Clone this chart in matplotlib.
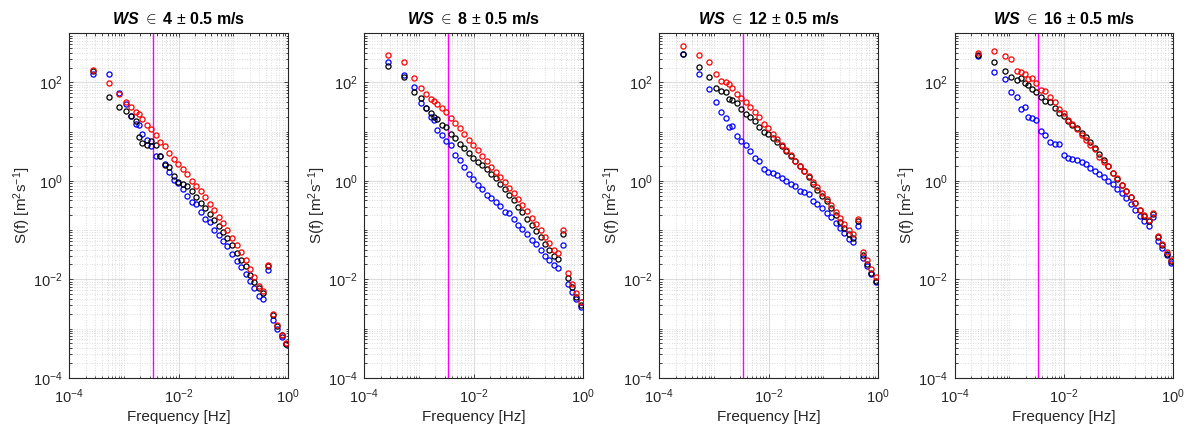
import numpy as np
import matplotlib
matplotlib.use('Agg')
import matplotlib.pyplot as plt
from matplotlib.ticker import LogLocator, FixedLocator, NullFormatter

plt.rcParams['font.family'] = ['Liberation Sans', 'DejaVu Sans']
plt.rcParams['mathtext.fontset'] = 'custom'
plt.rcParams['mathtext.rm'] = 'Liberation Sans'
plt.rcParams['mathtext.it'] = 'Liberation Sans:italic:bold'
plt.rcParams['mathtext.bf'] = 'Liberation Sans:bold'

# frequency bins [Hz]
freq = [2.68e-4, 5.33e-4, 8.24e-4, 1.09e-3, 1.37e-3, 1.64e-3, 1.91e-3, 2.17e-3,
        2.61e-3, 3.09e-3, 3.82e-3, 4.58e-3, 5.58e-3, 6.79e-3, 8.28e-3, 9.93e-3,
        1.19e-2, 1.43e-2, 1.74e-2, 2.12e-2, 2.55e-2, 3.05e-2, 3.72e-2, 4.47e-2,
        5.44e-2, 6.53e-2, 7.85e-2, 9.55e-2, 0.115, 0.138, 0.168, 0.201,
        0.245, 0.294, 0.358, 0.430, 0.524, 0.628, 0.765, 0.931]

titles = ['4', '8', '12', '16']
f_cut = 1 / 300.

# WS 4 m/s
red_4 = [177, 96, 57.5, 40.2, 31.3, 24.8, 22.6, 18.2, 13.7, 11.4, 8.45, 6.28, 5.05, 3.64,
         2.79, 2.24, 1.75, 1.36, 1.01, 0.789, 0.615, 0.464, 0.345, 0.252, 0.188, 0.140,
         0.101, 0.0692, 0.0507, 0.0354, 0.0243, 0.0162, 0.0110, 0.00743, 0.00570, 0.0193,
         0.00195, 0.00116, 0.00075, 0.00050]
black_4 = [174, 51.6, 31.8, 26.4, 20.9, 16.8, 7.69, 5.90, 5.30, 6.49, 5.30, 3.21, 2.14, 1.95,
           1.28, 0.966, 0.879, 0.801, 0.634, 0.471, 0.361, 0.286, 0.216, 0.163, 0.123, 0.0902,
           0.0681, 0.0491, 0.0343, 0.0251, 0.0184, 0.0124, 0.00897, 0.00667, 0.00536, 0.0190,
           0.00191, 0.00114, 0.00073, 0.00048]
blue_4 = [151, 149, 62.2, 36.6, 20.9, 14.4, 13.7, 8.85, 6.79, 5.13, 3.16, 3.21, 2.21, 1.54,
          1.03, 0.922, 0.675, 0.502, 0.373, 0.334, 0.237, 0.168, 0.149, 0.102, 0.0783, 0.0611,
          0.0476, 0.0333, 0.0240, 0.0178, 0.0127, 0.00940, 0.00667, 0.00466, 0.00392, 0.0157,
          0.00149, 0.00098, 0.00067, 0.00048]

# WS 8 m/s
red_8 = [357, 266, 122, 76.2, 58.5, 47.0, 41.5, 36.6, 29.9, 24.8, 19.0, 15.1, 11.9, 8.85,
         6.90, 5.38, 4.19, 3.26, 2.50, 1.95, 1.54, 1.20, 0.937, 0.730, 0.560, 0.430, 0.324,
         0.241, 0.179, 0.131, 0.0991, 0.0725, 0.0540, 0.0394, 0.0338, 0.101, 0.0132,
         0.00804, 0.00519, 0.00352]
black_8 = [220, 132, 63.2, 48.5, 30.8, 23.7, 20.2, 18.4, 13.9, 12.3, 8.85, 7.34, 5.55, 4.60,
           3.64, 2.97, 2.47, 2.07, 1.72, 1.38, 1.13, 0.879, 0.697, 0.526, 0.404, 0.300, 0.230,
           0.168, 0.127, 0.0946, 0.0715, 0.0522, 0.0394, 0.0298, 0.0259, 0.0822, 0.0105,
           0.00687, 0.00445, 0.00301]
blue_8 = [258, 142, 79.8, 38.4, 30.8, 19.6, 17.3, 10.8, 8.59, 6.49, 5.46, 3.37, 2.66, 1.92,
          1.36, 1.08, 0.826, 0.675, 0.518, 0.443, 0.379, 0.314, 0.237, 0.219, 0.168, 0.127,
          0.105, 0.0822, 0.0630, 0.0514, 0.0394, 0.0303, 0.0247, 0.0195, 0.0167, 0.0499,
          0.00804, 0.00553, 0.00392, 0.00270]

# WS 12 m/s
red_12 = [553, 363, 258, 147, 109, 103, 91.9, 76.2, 59.4, 48.5, 39.6, 31.8, 25.6, 19.6,
          14.4, 11.7, 9.14, 7.01, 5.46, 4.32, 3.31, 2.58, 2.04, 1.59, 1.24, 0.951, 0.741,
          0.560, 0.430, 0.324, 0.237, 0.177, 0.131, 0.0991, 0.0822, 0.166, 0.0365, 0.0243,
          0.0165, 0.0110]
black_12 = [386, 210, 132, 78.7, 68.4, 63.2, 47.0, 43.5, 38.4, 29.4, 23.3, 19.6, 16.3, 12.3,
            10.0, 8.85, 7.34, 6.18, 5.05, 4.12, 3.26, 2.54, 1.98, 1.57, 1.18, 0.879, 0.664,
            0.502, 0.385, 0.282, 0.200, 0.149, 0.110, 0.0834, 0.0681, 0.156, 0.0317, 0.0202,
            0.0135, 0.0094]
blue_12 = [380, 151, 75.0, 40.2, 25.2, 19.3, 12.5, 13.1, 8.19, 6.58, 5.38, 4.00, 2.88, 2.50,
           1.77, 1.54, 1.43, 1.30, 1.13, 0.997, 0.867, 0.777, 0.634, 0.586, 0.535, 0.397,
           0.345, 0.286, 0.226, 0.182, 0.142, 0.110, 0.0875, 0.0661, 0.0565, 0.119, 0.0267,
           0.0187, 0.0128, 0.00897]

# WS 16 m/s
red_16 = [392, 445, 346, 296, 174, 161, 147, 120, 122, 99, 70.5, 66.2, 50.0, 40.8, 28.5,
          23.7, 17.3, 14.1, 11.2, 8.59, 6.79, 5.30, 4.39, 3.06, 2.43, 1.98, 1.47, 1.13, 0.815,
          0.634, 0.479, 0.356, 0.261, 0.203, 0.158, 0.223, 0.0748, 0.0514, 0.0365, 0.0251]
black_16 = [363, 261, 171, 129, 113, 122, 99, 90.6, 75.0, 63.2, 50.0, 42.2, 39.6, 29.9, 24.4,
            21.2, 16.8, 13.7, 11.7, 9.27, 7.69, 6.09, 4.67, 3.48, 2.70, 1.98, 1.45, 1.09,
            0.826, 0.624, 0.464, 0.351, 0.256, 0.191, 0.151, 0.209, 0.0715, 0.0491, 0.0327,
            0.0232]
blue_16 = [346, 166, 118, 64.2, 50.8, 29.0, 31.3, 19.6, 19.0, 17.3, 10.5, 8.45, 6.18, 5.71,
           5.63, 3.37, 2.92, 2.84, 2.70, 2.47, 2.17, 1.83, 1.62, 1.41, 1.18, 1.01, 0.853,
           0.686, 0.569, 0.457, 0.340, 0.261, 0.197, 0.151, 0.121, 0.185, 0.0601, 0.0427,
           0.0308, 0.0211]

panels = [(blue_4, black_4, red_4), (blue_8, black_8, red_8),
          (blue_12, black_12, red_12), (blue_16, black_16, red_16)]

fig = plt.figure(figsize=(11.89, 4.30), dpi=100)
lefts = [0.0583, 0.3064, 0.5545, 0.8029]
txt = '#262626'

for i in range(4):
    ax = fig.add_axes([lefts[i], 0.1216, 0.1838, 0.801])
    blue, black, red = panels[i]
    ax.axvline(f_cut, color='#ff00ff', lw=1.0, zorder=2)
    for vals, c in [(blue, 'b'), (black, 'k'), (red, 'r')]:
        ax.plot(freq, vals, 'o', mfc='none', mec=c, ms=3.7, mew=0.9, zorder=3)
    ax.set_xscale('log')
    ax.set_yscale('log')
    ax.set_xlim(1e-4, 1)
    ax.set_ylim(1e-4, 1e3)
    ax.xaxis.set_major_locator(FixedLocator([1e-4, 1e-2, 1]))
    ax.yaxis.set_major_locator(FixedLocator([1e-4, 1e-2, 1, 1e2]))
    ax.set_xticklabels([r'$10^{-4}$', r'$10^{-2}$', r'$10^{0}$'])
    ax.set_yticklabels([r'$10^{-4}$', r'$10^{-2}$', r'$10^{0}$', r'$10^{2}$'])
    ax.xaxis.set_minor_locator(LogLocator(base=10, subs=np.arange(1, 10), numticks=50))
    ax.yaxis.set_minor_locator(LogLocator(base=10, subs=np.arange(1, 10), numticks=50))
    ax.xaxis.set_minor_formatter(NullFormatter())
    ax.yaxis.set_minor_formatter(NullFormatter())
    ax.grid(True, which='major', color='#dcdcdc', lw=0.8, zorder=0)
    ax.grid(True, which='minor', color='#d0d0d0', lw=0.6, ls=(0, (1, 2)), zorder=0)
    ax.tick_params(which='both', direction='in', top=True, right=True,
                   labelsize=10.5, colors=txt, width=0.6)
    ax.tick_params(which='major', length=3)
    ax.tick_params(which='minor', length=1.8)
    ax.tick_params(axis='x', which='major', pad=7)
    ax.tick_params(axis='y', which='major', pad=5)
    for s in ax.spines.values():
        s.set_color(txt)
        s.set_linewidth(0.8)
    ax.set_xlabel('Frequency [Hz]', fontsize=11, color=txt, labelpad=3)
    ax.set_ylabel(r'S(f) [m$^2$s$^{-1}$]', fontsize=11, color=txt, labelpad=0)
    ax.set_title(r'$WS$ $\in$ ' + titles[i] + r' $\pm$ 0.5 m/s', fontsize=11.5,
                 fontweight='bold', color='k', pad=7)

fig.savefig('out.png', dpi=100)
